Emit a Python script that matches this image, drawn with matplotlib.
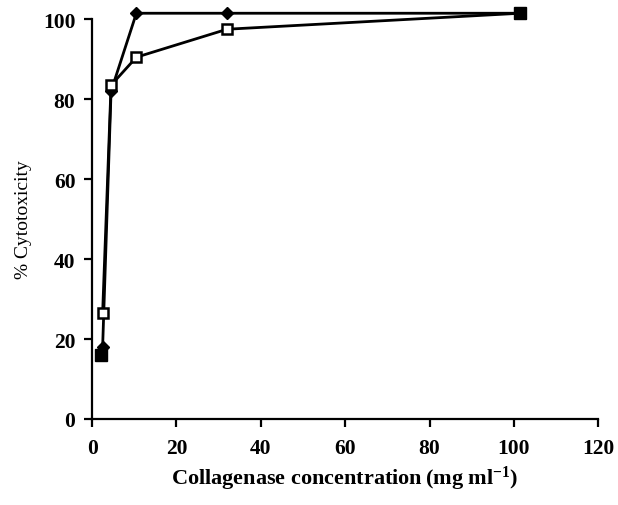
import matplotlib
matplotlib.use('Agg')
import matplotlib.pyplot as plt

# collagenase concentration (mg/ml)
conc = [2.5, 4.5, 10.5, 32, 101.5]
# % cytotoxicity, filled diamond series
diamond = [18, 82, 101.5, 101.5, 101.5]
# % cytotoxicity, open square series
square = [26.5, 83.5, 90.5, 97.5, 101.5]
# filled squares where the two series overlap
filled_x = [2.2, 101.5]
filled_y = [16, 101.5]

plt.rcParams['font.family'] = 'Liberation Serif'
plt.rcParams['font.weight'] = 'bold'
plt.rcParams['mathtext.fontset'] = 'custom'
plt.rcParams['mathtext.rm'] = 'Liberation Serif:bold'
plt.rcParams['mathtext.default'] = 'rm'

fig = plt.figure(figsize=(6.18, 5.06), dpi=100)
ax = fig.add_axes([0.149, 0.170, 0.819, 0.790])

ax.plot(conc, diamond, color='black', lw=2, marker='D', ms=6,
        mfc='black', mec='black', clip_on=False, zorder=3)
ax.plot(conc, square, color='black', lw=2, marker='s', ms=7,
        mfc='white', mec='black', mew=1.8, clip_on=False, zorder=3)
ax.plot(filled_x, filled_y, ls='none', marker='s', ms=8,
        mfc='black', mec='black', clip_on=False, zorder=4)

ax.set_xlim(0, 120)
ax.set_ylim(0, 100)
ax.set_xticks(range(0, 121, 20))
ax.set_yticks(range(0, 101, 20))
ax.spines['top'].set_visible(False)
ax.spines['right'].set_visible(False)
ax.spines['left'].set_linewidth(1.6)
ax.spines['bottom'].set_linewidth(1.6)
ax.tick_params(direction='out', length=6, width=1.6, labelsize=15.5)
ax.tick_params(axis='x', pad=8)
ax.tick_params(axis='y', pad=6)

ax.set_xlabel('Collagenase concentration$\\,$(mg ml$^{-1}$)', fontsize=16,
              fontweight='bold', labelpad=4)
ax.set_ylabel('% Cytotoxicity', fontsize=14, fontweight='normal', labelpad=8)

plt.savefig('out.png', dpi=100)
